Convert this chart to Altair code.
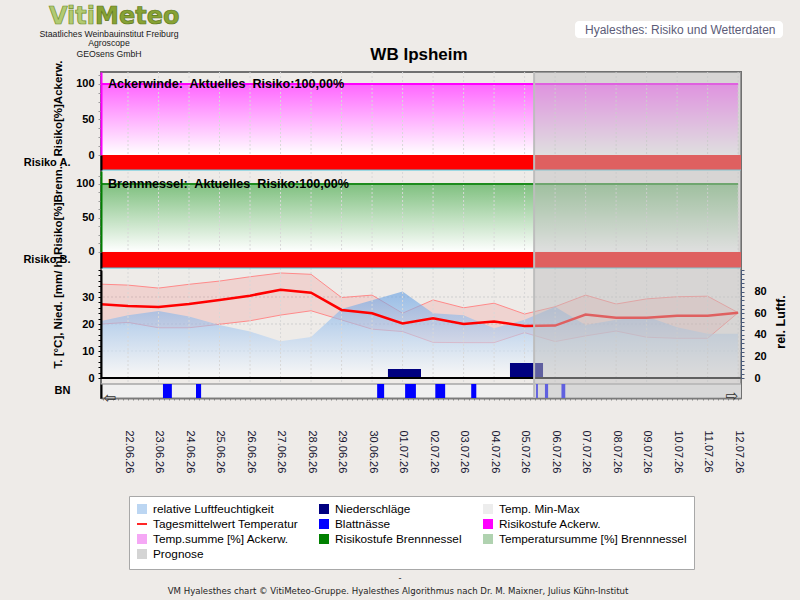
import altair as alt
import pandas as pd

FONT = "Liberation Sans"

# ---- daily station values, 21.06.26 - 12.07.26 ----
dates = ["2026-06-21", "2026-06-22", "2026-06-23", "2026-06-24", "2026-06-25", "2026-06-26",
         "2026-06-27", "2026-06-28", "2026-06-29", "2026-06-30", "2026-07-01", "2026-07-02",
         "2026-07-03", "2026-07-04", "2026-07-05", "2026-07-06", "2026-07-07", "2026-07-08",
         "2026-07-09", "2026-07-10", "2026-07-11", "2026-07-12"]
t_mean = [27.4, 26.7, 26.3, 27.4, 28.9, 30.5, 32.7, 31.6, 25.2, 24.0, 20.2, 22.1,
          20.0, 20.9, 19.3, 19.4, 23.5, 22.3, 22.3, 23.1, 23.1, 24.2]
t_max = [34.8, 34.4, 33.3, 34.7, 35.9, 37.5, 38.9, 38.4, 29.8, 30.7, 24.0, 28.9,
         26.0, 27.7, 23.7, 26.4, 30.7, 27.4, 29.3, 30.1, 30.3, 24.2]
t_min = [19.9, 20.6, 18.6, 18.6, 19.9, 21.2, 23.3, 24.9, 21.5, 18.1, 17.2, 13.2,
         13.1, 13.1, 16.8, 13.5, 15.6, 17.4, 15.1, 14.7, 14.7, 24.2]
rel_humidity = [52, 58, 62, 57, 49, 43, 34, 38, 64, 72, 80, 60,
                58, 46, 54, 66, 49, 54, 57, 47, 41, 41]
temp_sum_ackerwinde = [100, 100, 100, 100, 100, 100, 100, 100, 100, 100, 100, 100,
                       100, 100, 100, 100, 100, 100, 100, 100, 100, 100]
temp_sum_brennnessel = [100, 100, 100, 100, 100, 100, 100, 100, 100, 100, 100, 100,
                        100, 100, 100, 100, 100, 100, 100, 100, 100, 100]

# precipitation (daily sums, mm)
precip_days = ["2026-07-01", "2026-07-05"]
precip_mm = [3.3, 5.6]

# leaf wetness periods (Blattnässe)
wet_start = ["2026-06-23T03:30:00Z", "2026-06-24T05:30:00Z", "2026-06-30T04:00:00Z",
             "2026-07-01T02:00:00Z", "2026-07-02T01:45:00Z", "2026-07-03T06:00:00Z",
             "2026-07-05T09:00:00Z", "2026-07-05T16:00:00Z", "2026-07-06T05:00:00Z"]
wet_end = ["2026-06-23T10:30:00Z", "2026-06-24T09:30:00Z", "2026-06-30T09:30:00Z",
           "2026-07-01T10:30:00Z", "2026-07-02T09:30:00Z", "2026-07-03T10:00:00Z",
           "2026-07-05T10:30:00Z", "2026-07-05T18:30:00Z", "2026-07-06T08:00:00Z"]

# risk level periods (both species: high risk over the whole window)
risk_start = ["2026-06-20"]
risk_end = ["2026-07-13"]
risk_ackerwinde = 100.0
risk_brennnessel = 100.0

forecast_start = "2026-07-05T07:30:00Z"
forecast_end = "2026-07-13"

legend_labels = ["relative Luftfeuchtigkeit", "Niederschläge", "Temp. Min-Max",
                 "Tagesmittelwert Temperatur", "Blattnässe", "Risikostufe Ackerw.",
                 "Temp.summe [%] Ackerw.", "Risikostufe Brennnessel",
                 "Temperatursumme [%] Brennnessel", "Prognose"]
legend_colors = ["#BCD6F2", "#000080", "#EDEDED", "#FF0000", "#0000FF", "#FF00FF",
                 "#F5A8F5", "#008000", "#B0D2B0", "#D4D4D4"]
legend_shapes = ["square", "square", "square", "M-1,-0.17H1V0.17H-1Z", "square", "square",
                 "square", "square", "square", "square"]


def ms(ts):
    return int(pd.Timestamp(ts).value // 10**6)


daily = pd.DataFrame({"date": dates, "t_mean": t_mean, "t_max": t_max, "t_min": t_min,
                      "rh": rel_humidity, "ts_a": temp_sum_ackerwinde,
                      "ts_b": temp_sum_brennnessel})
grid_days = daily.iloc[1:][["date"]]
precip = pd.DataFrame({
    "start": [(pd.Timestamp(d, tz="UTC") - pd.Timedelta(hours=11.5)).isoformat() for d in precip_days],
    "end": [(pd.Timestamp(d, tz="UTC") + pd.Timedelta(hours=14.5)).isoformat() for d in precip_days],
    "mm": precip_mm})
wet = pd.DataFrame({"start": wet_start, "end": wet_end, "bn": "BN"})
risk = pd.DataFrame({"start": risk_start, "end": risk_end, "a": ["Risiko A."],
                     "b": ["Risiko B."], "bn": ["BN"]})
forecast = pd.DataFrame({"start": [forecast_start], "end": [forecast_end]})
one = pd.DataFrame({"k": [0]})

# ---- shared time axis ----
xs = alt.Scale(type="utc", domain=[ms("2026-06-21T02:45Z"), ms("2026-07-12T02:15Z")])
tick_ms = [ms(t) for t in pd.date_range("2026-06-21 04:00", "2026-07-12 00:00", freq="4h", tz="UTC")]
xaxis = alt.Axis(values=tick_ms, format="%d.%m.%y",
                 labelExpr="utchours(datum.value) === 0 ? datum.label : ''",
                 labelAngle=90, labelAlign="left", labelBaseline="middle", labelPadding=30,
                 labelFont=FONT, labelFontSize=11, labelColor="#151530",
                 labelOverlap=False, labelFlush=False, tickColor="#8C8C8C", tickSize=2,
                 domainColor="#7A7A7A", domainWidth=2, grid=False, title=None)


def X(field):
    return alt.X(f"{field}:T", scale=xs, axis=xaxis)


def lin(domain, rng):
    return alt.Scale(domain=domain, range=rng, nice=False, zero=False)


def band(name, rng):
    return alt.Scale(type="band", domain=[name], range=rng, paddingInner=0, paddingOuter=0)


sA = lin([0, 116.9], [83, 0])
sB = lin([0, 119.2], [179.7, 99])
sT = lin([0, 40], [306, 198])
sH = lin([0, 100], [306, 198])
bA = band("Risiko A.", [83, 98])
bB = band("Risiko B.", [180, 196])
bBN = band("BN", [312, 326])

common_axis = dict(labelFont=FONT, labelFontSize=11, labelFontWeight="bold", labelColor="black",
                   titleFont=FONT, titleFontWeight="bold", titleColor="black",
                   titleAngle=270, titleAlign="center", titleBaseline="middle", grid=False, zindex=1)


def risk_axis(title, ty, color):
    return alt.Axis(orient="left", values=[i * 12.5 for i in range(10)],
                    labelExpr="datum.value % 50 === 0 ? datum.label : ''",
                    title=title, titleX=-43, titleY=ty, titleFontSize=11.5,
                    domainColor=color, domainWidth=2, tickColor="#9A9A9A", tickSize=3,
                    labelPadding=4, **common_axis)


def band_axis():
    return alt.Axis(orient="left", title=None, ticks=False, labelPadding=31,
                    domainColor="black", domainWidth=2, **common_axis)


axis_t = alt.Axis(orient="left", values=list(range(0, 41, 2)),
                  labelExpr="datum.value % 10 === 0 && datum.value < 40 ? datum.label : ''",
                  title="T. [°C], Nied. [mm/ h]", titleX=-43, titleY=240, titleFontSize=11.5,
                  domainColor="black", domainWidth=2, tickColor="black", tickSize=3,
                  labelPadding=4, **common_axis)
axis_h = alt.Axis(orient="right", values=list(range(0, 101, 4)),
                  labelExpr="datum.value % 20 === 0 && datum.value < 100 ? datum.label : ''",
                  title="rel. Luftf.", titleX=39, titleY=249.5, titleFontSize=12.5,
                  domainColor="#4A5A78", domainWidth=1, tickColor="#4A5A78", tickSize=3,
                  labelPadding=10, **common_axis)


def vgrad(top, bottom):
    return alt.Gradient(gradient="linear",
                        stops=[alt.GradientStop(color=top, offset=0),
                               alt.GradientStop(color=bottom, offset=1)],
                        x1=1, x2=1, y1=0, y2=1)


# ---- panel A / B: temperature sums (gradient areas) ----
area_a = alt.Chart(daily).mark_area(color=vgrad("#FF66FF", "#FFFFFF"), clip=True).encode(
    x=X("date"), y=alt.Y("ts_a:Q", scale=sA, axis=risk_axis("Risiko[%]Ackerw.", 36, "#FF00FF")))
area_b = alt.Chart(daily).mark_area(color=vgrad("#7FC07F", "#FFFFFF"), clip=True).encode(
    x=X("date"), y=alt.Y("ts_b:Q", scale=sB, axis=risk_axis("Risiko[%]Brenn.", 138, "#008000")))
line_a = alt.Chart(daily).mark_line(color="#FF00FF", strokeWidth=2, clip=True).encode(
    x=X("date"), y=alt.Y("ts_a:Q", scale=sA, axis=None))
line_b = alt.Chart(daily).mark_line(color="#1E8C1E", strokeWidth=2, clip=True).encode(
    x=X("date"), y=alt.Y("ts_b:Q", scale=sB, axis=None))

# ---- panel C: weather ----
hgrid = alt.Chart(pd.DataFrame({"v": [10, 20, 30]})).mark_rule(
    color="#CFCFCF", strokeDash=[2, 2]).encode(y=alt.Y("v:Q", scale=sT, axis=None))
t_band = alt.Chart(daily).mark_area(color="#FF0000", opacity=0.1, clip=True).encode(
    x=X("date"), y=alt.Y("t_max:Q", scale=sT, axis=None), y2="t_min")
t_max_line = alt.Chart(daily).mark_line(color="#FF8A8A", strokeWidth=1, clip=True).encode(
    x=X("date"), y=alt.Y("t_max:Q", scale=sT, axis=None))
t_min_line = alt.Chart(daily).mark_line(color="#FF8A8A", strokeWidth=1, clip=True).encode(
    x=X("date"), y=alt.Y("t_min:Q", scale=sT, axis=None))
rh_area = alt.Chart(daily).mark_area(
    color=vgrad("rgba(100,160,228,0.62)", "rgba(255,255,255,0.62)"), clip=True).encode(
    x=X("date"), y=alt.Y("rh:Q", scale=sH, axis=axis_h))
t_mean_line = alt.Chart(daily).mark_line(color="#FF0000", strokeWidth=2.5, clip=True).encode(
    x=X("date"), y=alt.Y("t_mean:Q", scale=sT, axis=axis_t))
precip_bars = alt.Chart(precip).mark_rect(color="#000080").encode(
    x=X("start"), x2="end", y=alt.Y("mm:Q", scale=sT, axis=None), y2=alt.datum(0))
zero_rule = alt.Chart(pd.DataFrame({"v": [0]})).mark_rule(color="black", strokeWidth=2).encode(
    y=alt.Y("v:Q", scale=sT, axis=None))

# vertical day grid
vgrid = alt.Chart(grid_days).mark_rule(color="#D8D8D8", strokeDash=[2, 2], strokeWidth=1).encode(
    x=X("date"))

# ---- risk level bands ----
band_a = alt.Chart(risk).mark_rect(color="#FF0000", clip=True).encode(
    x=X("start"), x2="end", y=alt.Y("a:N", scale=bA, axis=band_axis()))
band_b = alt.Chart(risk).mark_rect(color="#FF0000", clip=True).encode(
    x=X("start"), x2="end", y=alt.Y("b:N", scale=bB, axis=band_axis()))
sep_a = alt.Chart(risk).mark_rule(color="#4CC6DC", strokeWidth=1).encode(
    y=alt.Y("a:N", scale=bA, axis=None, bandPosition=1))
sep_b = alt.Chart(risk).mark_rule(color="#4CC6DC", strokeWidth=1).encode(
    y=alt.Y("b:N", scale=bB, axis=None, bandPosition=1))

# ---- leaf wetness strip ----
bn_bg = alt.Chart(risk).mark_rect(color="#F0F0F0", stroke="#A6A6A6", strokeWidth=1.5, clip=True).encode(
    x=X("start"), x2="end", y=alt.Y("bn:N", scale=bBN, axis=band_axis()))
bn_bars = alt.Chart(wet).mark_rect(color="#0000FF").encode(
    x=X("start"), x2="end", y=alt.Y("bn:N", scale=bBN, axis=None))

# ---- forecast shading ----
fc_rect = alt.Chart(forecast).mark_rect(color="#C0C0C0", opacity=0.5, clip=True).encode(
    x=X("start"), x2="end")
fc_edge = alt.Chart(forecast).mark_rule(color="#BDBDBD", strokeWidth=2).encode(x=X("start"))


# ---- current risk captions ----
def pct(v):
    return f"{v:.2f}".replace(".", ",")


def caption(species, value):
    return f"{species}:\u00a0 Aktuelles\u00a0 Risiko:{pct(value)}%"


cap_a = alt.Chart(pd.DataFrame({"label": [caption("Ackerwinde", risk_ackerwinde)],
                                "v": [risk_ackerwinde]})).mark_text(
    align="left", baseline="middle", font=FONT, fontSize=12.6, fontWeight="bold", color="black").encode(
    x=alt.value(7), y=alt.Y("v:Q", scale=sA, axis=None), text="label:N")
cap_b = alt.Chart(pd.DataFrame({"label": [caption("Brennnessel", risk_brennnessel)],
                                "v": [risk_brennnessel]})).mark_text(
    align="left", baseline="middle", font=FONT, fontSize=12.6, fontWeight="bold", color="black").encode(
    x=alt.value(7), y=alt.Y("v:Q", scale=sB, axis=None), text="label:N")


# ---- page texts (coordinates relative to the plot origin) ----
def note(text, x, y, size, weight="normal", color="#000000", align="center",
         baseline="middle", font=FONT, **kw):
    return alt.Chart(one).mark_text(text=text, align=align, baseline=baseline, font=font,
                                    fontSize=size, fontWeight=weight, color=color, **kw).encode(
        x=alt.value(x), y=alt.value(y))


header_box = alt.Chart(one).mark_rect(fill="white", cornerRadius=4).encode(
    x=alt.value(474), x2=alt.value(682), y=alt.value(-51), y2=alt.value(-34))

notes = [
    note("Viti", -6, -48, 24, "bold", "#B2CA72", align="right", baseline="alphabetic",
         font="DejaVu Sans", stroke="#6F8E2A", strokeWidth=0.7),
    note("Meteo", -6, -48, 24, "bold", "#87A234", align="left", baseline="alphabetic",
         font="DejaVu Sans", stroke="#5B771C", strokeWidth=0.7),
    note("Staatliches Weinbauinstitut Freiburg", 8, -38.5, 8.7, color="#202020"),
    note("Agroscope", 8, -28.8, 8.7, color="#202020"),
    note("GEOsens GmbH", 8, -18.5, 8.7, color="#202020"),
    note("WB Ipsheim", 318, -12.5, 17, "bold", baseline="alphabetic"),
    header_box,
    note("Hyalesthes: Risiko und Wetterdaten", 484, -42.5, 12, color="#5C5C78", align="left"),
    note("-", 299, 506, 9, color="#202020"),
    note("VM Hyalesthes chart © VitiMeteo-Gruppe. Hyalesthes Algorithmus nach Dr. M. Maixner, Julius Kühn-Institut",
         297, 519, 8.6, color="#1E1E1E", font="DejaVu Sans"),
    note("⇦", 9, 326, 15, color="#303030", font="DejaVu Sans"),
    note("⇨", 631, 324, 15, color="#303030", font="DejaVu Sans"),
]

# ---- legend ----
legend = alt.Legend(
    orient="none", legendX=28, legendY=424, columns=3, direction="horizontal", title=None,
    symbolSize=100, symbolOpacity=1, labelFont=FONT, labelFontSize=11.8,
    labelColor="black", labelLimit=400, labelOffset=5, rowPadding=-1, columnPadding=18,
    padding=7, fillColor="white", strokeColor="#A8A8A8")
legend_layer = alt.Chart(pd.DataFrame({"label": legend_labels})).mark_point(
    filled=True, opacity=0).encode(
    color=alt.Color("label:N", scale=alt.Scale(domain=legend_labels, range=legend_colors),
                    legend=legend),
    shape=alt.Shape("label:N", scale=alt.Scale(domain=legend_labels, range=legend_shapes),
                    legend=legend))

chart = alt.layer(
    area_a, area_b, hgrid, t_band, t_max_line, t_min_line, rh_area, vgrid,
    line_a, line_b, band_a, band_b, sep_a, sep_b,
    t_mean_line, precip_bars, zero_rule, bn_bg, bn_bars,
    fc_rect, fc_edge, cap_a, cap_b, *notes, legend_layer,
).resolve_scale(y="independent").properties(
    width=640, height=326,
    padding={"left": 101, "top": 72, "right": 59, "bottom": 202},
    autosize=alt.AutoSizeParams(type="none"),
    background="#EEEBE8",
).configure_view(fill="white", stroke="#707070", strokeWidth=2)

chart.save("out.html", embed_options={"renderer": "svg", "actions": False})
